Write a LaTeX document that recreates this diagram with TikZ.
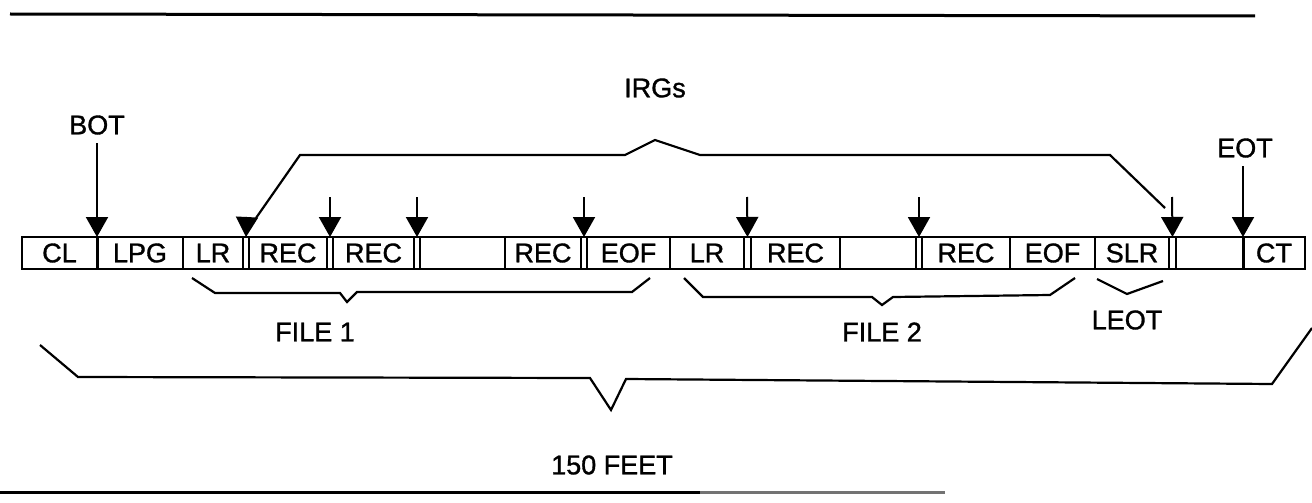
\documentclass[tikz,border=0pt]{standalone}
\usepackage{fontspec}
\setmainfont{Liberation Sans}[FakeBold=1.2]
\usetikzlibrary{arrows.meta}
\newcommand\tapecell[4]{\node[cell, minimum width={#3-#2}] (#1) at (#2,253) {#4};}
\begin{document}
\begin{tikzpicture}[x=1pt,y=-1pt,
  lbl/.style={font=\fontsize{27}{30}\selectfont, inner sep=0pt},
  cell/.style={draw, line width=1.7pt, minimum height=32pt, inner sep=0pt, outer sep=0pt, anchor=west, font=\fontsize{27}{30}\selectfont},
  rule/.style={line width=3pt},
  brk/.style={line width=2.2pt, line join=miter},
  pointer/.style={line width=2pt, -{Triangle[width=22pt,length=20pt]}},
  sepline/.style={line width=3pt}
]
\useasboundingbox (0,0) rectangle (1312,503);
% rules
\draw[rule] (10,14) -- (1255,16);
\draw[rule] (0,492) -- (700,492);
\draw[rule, black!55] (700,492) -- (945,492);
% tape cells
\tapecell{cl}{22}{97}{CL}
\tapecell{lpg}{97}{183}{LPG}
\tapecell{lra}{183}{243}{LR}
\tapecell{irga}{243}{249}{}
\tapecell{reca}{249}{327}{REC}
\tapecell{irgb}{327}{333}{}
\tapecell{recb}{333}{414}{REC}
\tapecell{irgc}{414}{420}{}
\tapecell{gapa}{420}{505}{}
\tapecell{recc}{505}{581}{REC}
\tapecell{irgd}{581}{587}{}
\tapecell{eofa}{587}{670}{EOF}
\tapecell{lrb}{670}{744}{LR}
\tapecell{irge}{744}{751}{}
\tapecell{recd}{751}{840}{REC}
\tapecell{gapb}{840}{916}{}
\tapecell{irgf}{916}{922}{}
\tapecell{rece}{922}{1010}{REC}
\tapecell{eofb}{1010}{1095}{EOF}
\tapecell{slr}{1095}{1169}{SLR}
\tapecell{irgg}{1169}{1176}{}
\tapecell{gapc}{1176}{1243}{}
\tapecell{ct}{1243}{1305}{CT}
% thick separators
\draw[sepline] (lpg.north west) -- (lpg.south west);
\draw[sepline] (ct.north west) -- (ct.south west);
% labels
\node[lbl] (irgs) at (655,88) {IRGs};
\node[lbl] (bot) at (97,125) {BOT};
\node[lbl] (eot) at (1245,148) {EOT};
\node[lbl] (file1) at (315,332) {FILE 1};
\node[lbl] (file2) at (882,332) {FILE 2};
\node[lbl] (leot) at (1127,320) {LEOT};
\node[lbl] (feet) at (612,465) {150 FEET};
% arrows
\coordinate (sbot) at (97,143);
\coordinate (sa) at (247,217);
\coordinate (sb) at (330,197);
\coordinate (sc) at (417,197);
\coordinate (sd) at (584,197);
\coordinate (se) at (747,197);
\coordinate (sf) at (919,197);
\coordinate (sg) at (1172,197);
\coordinate (seot) at (1243,166);
\draw[pointer] (sbot) -- (lpg.north west);
\draw[pointer] (sa) -- (irga.north);
\draw[pointer] (sb) -- (irgb.north);
\draw[pointer] (sc) -- (irgc.north);
\draw[pointer] (sd) -- (irgd.north);
\draw[pointer] (se) -- (irge.north);
\draw[pointer] (sf) -- (irgf.north);
\draw[pointer] (sg) -- (irgg.north);
\draw[pointer] (seot) -- (ct.north west);
% IRG bracket
\draw[brk] (256,218) -- (300,155) -- (625,155) -- (655,140) -- (700,155) -- (1110,155) -- (1165,208);
% braces
\draw[brk] (192,278) -- (215,293) -- (340,293) -- (347,302) -- (357,292) -- (632,292) -- (650,278);
\draw[brk] (684,278) -- (703,297) -- (872,297) -- (882,305) -- (893,297) -- (1050,295) -- (1075,278);
\draw[brk] (1097,279) -- (1127,294) -- (1163,281);
\draw[brk] (40,345) -- (78,377) -- (590,378) -- (611,410) -- (626,379) -- (1272,384) -- (1312,328);
\end{tikzpicture}
\end{document}
